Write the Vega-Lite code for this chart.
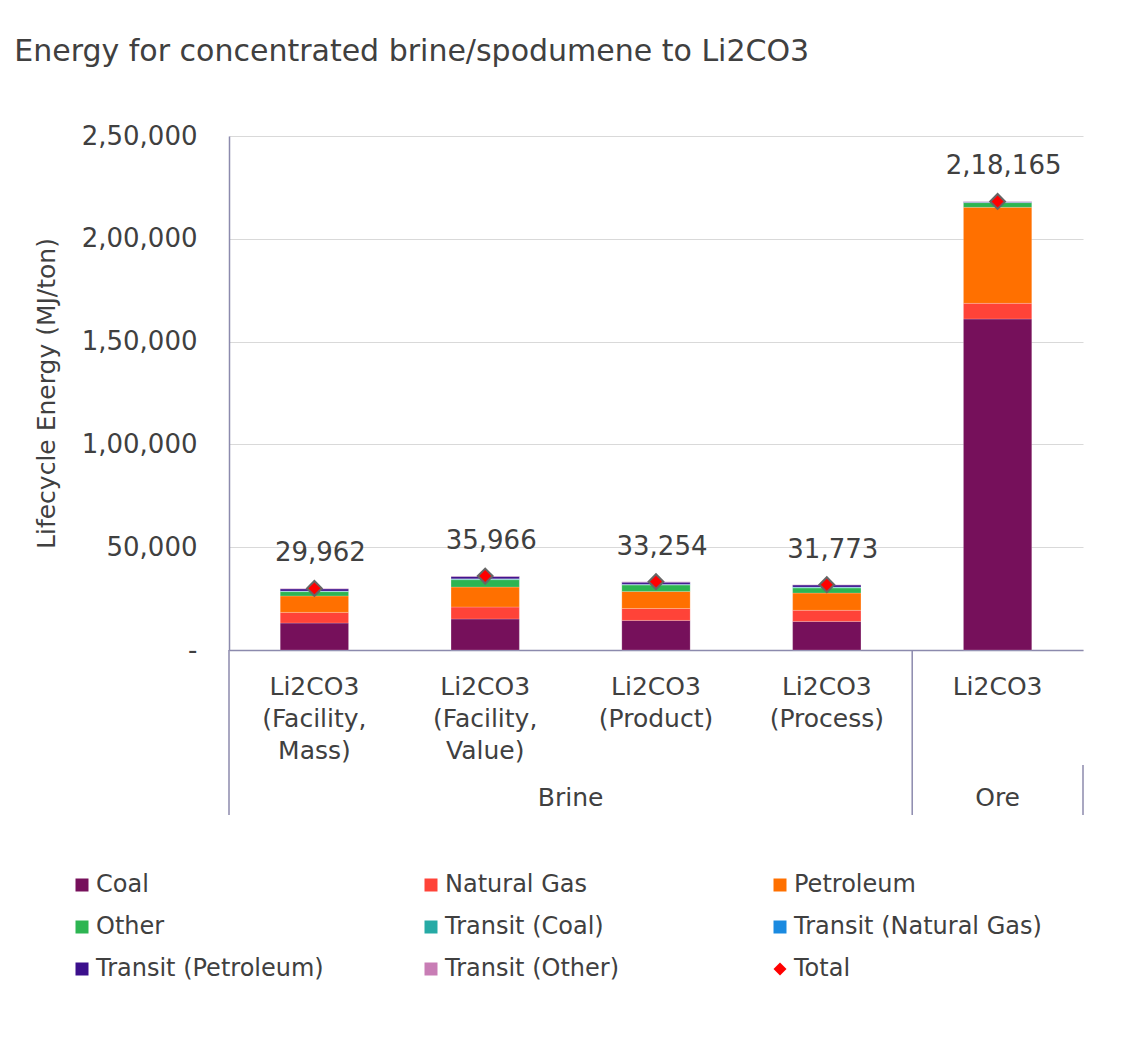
{
  "$schema": "https://vega.github.io/schema/vega-lite/v6.json",
  "padding": {"left": 14, "top": 37, "right": 10, "bottom": 10},
  "background": "white",
  "config": {"font": "DejaVu Sans", "view": {"stroke": null}},
  "bounds": "flush",
  "spacing": 0,
  "title": {"text": "Energy for concentrated brine/spodumene to Li2CO3", "anchor": "start", "fontSize": 30, "fontWeight": "normal", "color": "#404040", "dx": -20, "offset": 56},
  "datasets": {
    "energy": [
      {"cat": "Li2CO3 (Facility, Mass)", "source": "Coal", "value": 13100},
      {"cat": "Li2CO3 (Facility, Mass)", "source": "Natural Gas", "value": 5200},
      {"cat": "Li2CO3 (Facility, Mass)", "source": "Petroleum", "value": 8000},
      {"cat": "Li2CO3 (Facility, Mass)", "source": "Other", "value": 2100},
      {"cat": "Li2CO3 (Facility, Mass)", "source": "Transit (Coal)", "value": 200},
      {"cat": "Li2CO3 (Facility, Mass)", "source": "Transit (Natural Gas)", "value": 100},
      {"cat": "Li2CO3 (Facility, Mass)", "source": "Transit (Petroleum)", "value": 1000},
      {"cat": "Li2CO3 (Facility, Mass)", "source": "Transit (Other)", "value": 262},
      {"cat": "Li2CO3 (Facility, Value)", "source": "Coal", "value": 15100},
      {"cat": "Li2CO3 (Facility, Value)", "source": "Natural Gas", "value": 5800},
      {"cat": "Li2CO3 (Facility, Value)", "source": "Petroleum", "value": 9700},
      {"cat": "Li2CO3 (Facility, Value)", "source": "Other", "value": 3600},
      {"cat": "Li2CO3 (Facility, Value)", "source": "Transit (Coal)", "value": 300},
      {"cat": "Li2CO3 (Facility, Value)", "source": "Transit (Natural Gas)", "value": 100},
      {"cat": "Li2CO3 (Facility, Value)", "source": "Transit (Petroleum)", "value": 1100},
      {"cat": "Li2CO3 (Facility, Value)", "source": "Transit (Other)", "value": 266},
      {"cat": "Li2CO3 (Product)", "source": "Coal", "value": 14400},
      {"cat": "Li2CO3 (Product)", "source": "Natural Gas", "value": 5800},
      {"cat": "Li2CO3 (Product)", "source": "Petroleum", "value": 8300},
      {"cat": "Li2CO3 (Product)", "source": "Other", "value": 3100},
      {"cat": "Li2CO3 (Product)", "source": "Transit (Coal)", "value": 300},
      {"cat": "Li2CO3 (Product)", "source": "Transit (Natural Gas)", "value": 100},
      {"cat": "Li2CO3 (Product)", "source": "Transit (Petroleum)", "value": 1000},
      {"cat": "Li2CO3 (Product)", "source": "Transit (Other)", "value": 254},
      {"cat": "Li2CO3 (Process)", "source": "Coal", "value": 13900},
      {"cat": "Li2CO3 (Process)", "source": "Natural Gas", "value": 5400},
      {"cat": "Li2CO3 (Process)", "source": "Petroleum", "value": 8400},
      {"cat": "Li2CO3 (Process)", "source": "Other", "value": 2500},
      {"cat": "Li2CO3 (Process)", "source": "Transit (Coal)", "value": 300},
      {"cat": "Li2CO3 (Process)", "source": "Transit (Natural Gas)", "value": 100},
      {"cat": "Li2CO3 (Process)", "source": "Transit (Petroleum)", "value": 1000},
      {"cat": "Li2CO3 (Process)", "source": "Transit (Other)", "value": 173},
      {"cat": "Li2CO3", "source": "Coal", "value": 161000},
      {"cat": "Li2CO3", "source": "Natural Gas", "value": 7600},
      {"cat": "Li2CO3", "source": "Petroleum", "value": 46700},
      {"cat": "Li2CO3", "source": "Other", "value": 2300},
      {"cat": "Li2CO3", "source": "Transit (Coal)", "value": 100},
      {"cat": "Li2CO3", "source": "Transit (Natural Gas)", "value": 50},
      {"cat": "Li2CO3", "source": "Transit (Petroleum)", "value": 300},
      {"cat": "Li2CO3", "source": "Transit (Other)", "value": 115}
    ],
    "totals": [
      {"cat": "Li2CO3 (Facility, Mass)", "source": "Total", "total": 29962},
      {"cat": "Li2CO3 (Facility, Value)", "source": "Total", "total": 35966},
      {"cat": "Li2CO3 (Product)", "source": "Total", "total": 33254},
      {"cat": "Li2CO3 (Process)", "source": "Total", "total": 31773},
      {"cat": "Li2CO3", "source": "Total", "total": 218165}
    ],
    "cats": [
      {"cat": "Li2CO3 (Facility, Mass)", "label": "Li2CO3\n(Facility,\nMass)", "group": "Brine"},
      {"cat": "Li2CO3 (Facility, Value)", "label": "Li2CO3\n(Facility,\nValue)", "group": "Brine"},
      {"cat": "Li2CO3 (Product)", "label": "Li2CO3\n(Product)", "group": "Brine"},
      {"cat": "Li2CO3 (Process)", "label": "Li2CO3\n(Process)", "group": "Brine"},
      {"cat": "Li2CO3", "label": "Li2CO3", "group": "Ore"}
    ],
    "groups": [
      {"group": "Brine"},
      {"group": "Ore"}
    ]
  },
  "vconcat": [
    {
      "width": 854,
      "height": 514,
      "layer": [
        {
          "data": {"name": "energy"},
          "transform": [
            {"calculate": "indexof(['Coal', 'Natural Gas', 'Petroleum', 'Other', 'Transit (Coal)', 'Transit (Natural Gas)', 'Transit (Petroleum)', 'Transit (Other)'], datum.source)", "as": "stackOrder"}
          ],
          "mark": {"type": "bar", "stroke": "white", "strokeWidth": 0.5, "strokeOpacity": 0.4},
          "encoding": {
            "x": {
              "field": "cat", "type": "nominal",
              "scale": {"domain": ["Li2CO3 (Facility, Mass)", "Li2CO3 (Facility, Value)", "Li2CO3 (Product)", "Li2CO3 (Process)", "Li2CO3"], "paddingInner": 0.6, "paddingOuter": 0.3},
              "axis": {"labels": false, "ticks": false, "title": null, "domainColor": "#8c8aad", "domainWidth": 1.5}
            },
            "y": {
              "field": "value", "type": "quantitative", "stack": "zero",
              "scale": {"domain": [0, 250000], "nice": false},
              "axis": {
                "values": [0, 50000, 100000, 150000, 200000, 250000],
                "grid": true, "gridColor": "#d9d9d9", "domainColor": "#8c8aad", "domainWidth": 1.5,
                "ticks": false, "labelPadding": 32, "labelFontSize": 26, "labelColor": "#404040",
                "labelExpr": "datum.value == 0 ? '-' : (datum.value >= 100000 ? format(floor(datum.value / 100000), 'd') + ',' + format(datum.value % 100000, '06,') : format(datum.value, ','))",
                "title": "Lifecycle Energy (MJ/ton)", "titleFontSize": 25, "titleFontWeight": "normal", "titleColor": "#404040", "titlePadding": 22
              }
            },
            "order": {"field": "stackOrder", "type": "quantitative", "sort": "ascending"},
            "color": {
              "field": "source", "type": "nominal",
              "scale": {
                "domain": ["Coal", "Natural Gas", "Petroleum", "Other", "Transit (Coal)", "Transit (Natural Gas)", "Transit (Petroleum)", "Transit (Other)", "Total"],
                "range": ["#76105b", "#ff4338", "#ff7000", "#2db552", "#26aaa5", "#1a8ae0", "#3b0f8c", "#c87db5", "#ff0000"]
              },
              "legend": {
                "orient": "none", "legendX": -159, "legendY": 737, "columns": 3, "direction": "horizontal", "title": null,
                "labelFontSize": 24, "labelColor": "#404040", "labelLimit": 500, "symbolSize": 169,
                "symbolStrokeWidth": 0, "columnPadding": 75, "rowPadding": 18, "gridAlign": "all", "labelOffset": 2
              }
            }
          }
        },
        {
          "data": {"name": "totals"},
          "mark": {"type": "point", "filled": true, "stroke": "#666666", "strokeWidth": 2, "size": 220, "opacity": 1},
          "encoding": {
            "x": {"field": "cat", "type": "nominal"},
            "y": {"field": "total", "type": "quantitative"},
            "color": {"field": "source", "type": "nominal"},
            "shape": {
              "field": "source", "type": "nominal",
              "scale": {
                "domain": ["Coal", "Natural Gas", "Petroleum", "Other", "Transit (Coal)", "Transit (Natural Gas)", "Transit (Petroleum)", "Transit (Other)", "Total"],
                "range": ["square", "square", "square", "square", "square", "square", "square", "square", "diamond"]
              },
              "legend": {
                "orient": "none", "legendX": -159, "legendY": 737, "columns": 3, "direction": "horizontal", "title": null,
                "labelFontSize": 24, "labelColor": "#404040", "labelLimit": 500, "symbolSize": 169,
                "symbolStrokeWidth": 0, "columnPadding": 75, "rowPadding": 18, "gridAlign": "all", "labelOffset": 2
              }
            }
          }
        },
        {
          "data": {"name": "totals"},
          "mark": {"type": "text", "dy": -35, "dx": 6, "fontSize": 26, "color": "#404040", "baseline": "middle",
            "text": {"expr": "datum.total >= 100000 ? format(floor(datum.total / 100000), 'd') + ',' + format(datum.total % 100000, '06,') : format(datum.total, ',')"}},
          "encoding": {
            "x": {"field": "cat", "type": "nominal"},
            "y": {"field": "total", "type": "quantitative"}
          }
        }
      ]
    },
    {
      "width": 854,
      "height": 115,
      "layer": [
        {
          "data": {"name": "cats"},
          "mark": {"type": "text", "baseline": "top", "align": "center", "dy": -33, "fontSize": 25, "lineHeight": 32, "lineBreak": "\n", "color": "#404040"},
          "encoding": {
            "x": {
              "field": "cat", "type": "nominal",
              "scale": {"domain": ["Li2CO3 (Facility, Mass)", "Li2CO3 (Facility, Value)", "Li2CO3 (Product)", "Li2CO3 (Process)", "Li2CO3"], "paddingInner": 0.6, "paddingOuter": 0.3},
              "axis": null
            },
            "text": {"field": "label", "type": "nominal"}
          }
        },
        {
          "data": {"values": [{}]},
          "mark": {"type": "rule", "color": "#8c8aad", "strokeWidth": 1.5},
          "encoding": {"x": {"datum": "Li2CO3 (Facility, Mass)", "type": "nominal", "bandPosition": -0.75}}
        },
        {
          "data": {"values": [{}]},
          "mark": {"type": "rule", "color": "#8c8aad", "strokeWidth": 1.5},
          "encoding": {"x": {"datum": "Li2CO3 (Process)", "type": "nominal", "bandPosition": 1.75}}
        }
      ]
    },
    {
      "width": 854,
      "height": 50,
      "layer": [
        {
          "data": {"name": "groups"},
          "transform": [{"filter": "datum.group === 'Brine'"}],
          "mark": {"type": "text", "baseline": "middle", "align": "center", "dy": 8, "fontSize": 25, "color": "#404040"},
          "encoding": {
            "x": {
              "datum": "Li2CO3 (Facility, Value)", "type": "nominal", "bandPosition": 1.75,
              "scale": {"domain": ["Li2CO3 (Facility, Mass)", "Li2CO3 (Facility, Value)", "Li2CO3 (Product)", "Li2CO3 (Process)", "Li2CO3"], "paddingInner": 0.6, "paddingOuter": 0.3},
              "axis": null
            },
            "text": {"field": "group", "type": "nominal"}
          }
        },
        {
          "data": {"name": "groups"},
          "transform": [{"filter": "datum.group === 'Ore'"}],
          "mark": {"type": "text", "baseline": "middle", "align": "center", "dy": 8, "fontSize": 25, "color": "#404040"},
          "encoding": {
            "x": {"datum": "Li2CO3", "type": "nominal"},
            "text": {"field": "group", "type": "nominal"}
          }
        },
        {
          "data": {"values": [{}]},
          "mark": {"type": "rule", "color": "#8c8aad", "strokeWidth": 1.5},
          "encoding": {"x": {"datum": "Li2CO3 (Facility, Mass)", "type": "nominal", "bandPosition": -0.75}}
        },
        {
          "data": {"values": [{}]},
          "mark": {"type": "rule", "color": "#8c8aad", "strokeWidth": 1.5},
          "encoding": {"x": {"datum": "Li2CO3 (Process)", "type": "nominal", "bandPosition": 1.75}}
        },
        {
          "data": {"values": [{}]},
          "mark": {"type": "rule", "color": "#8c8aad", "strokeWidth": 1.5},
          "encoding": {"x": {"datum": "Li2CO3", "type": "nominal", "bandPosition": 1.75}}
        }
      ]
    }
  ]
}
